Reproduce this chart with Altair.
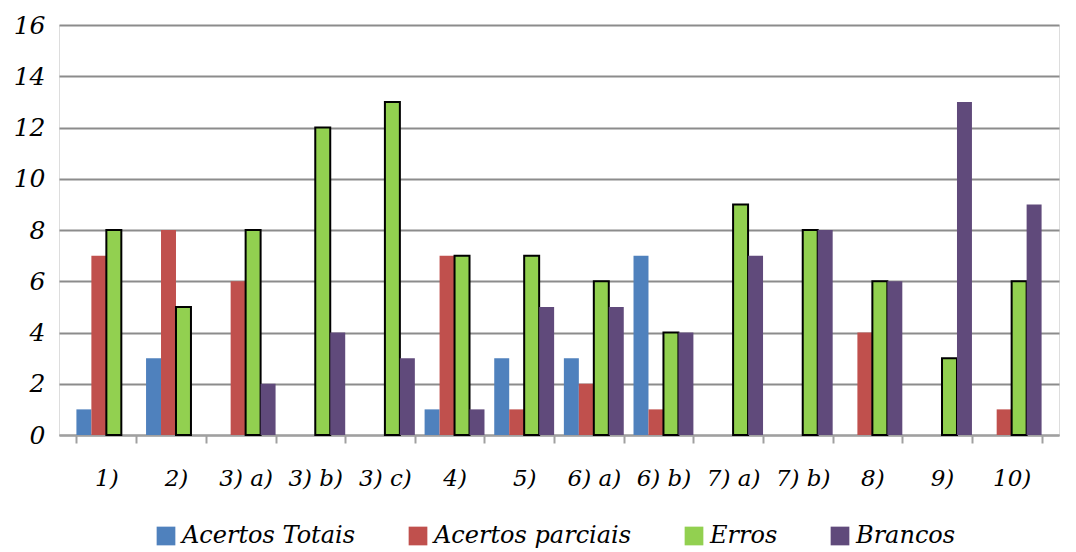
import altair as alt
import pandas as pd

categories = ["1)", "2)", "3) a)", "3) b)", "3) c)", "4)", "5)", "6) a)", "6) b)", "7) a)", "7) b)", "8)", "9)", "10)"]
series = ["Acertos Totais", "Acertos parciais", "Erros", "Brancos"]
acertos_totais = [1, 3, 0, 0, 0, 1, 3, 3, 7, 0, 0, 0, 0, 0]
acertos_parciais = [7, 8, 6, 0, 0, 7, 1, 2, 1, 0, 0, 4, 0, 1]
erros = [8, 5, 8, 12, 13, 7, 7, 6, 4, 9, 8, 6, 3, 6]
brancos = [0, 0, 2, 4, 3, 1, 5, 5, 4, 7, 8, 6, 13, 9]
colors = ["#4F81BD", "#C0504D", "#92D050", "#604A7B"]

rows = []
for vals, s in zip([acertos_totais, acertos_parciais, erros, brancos], series):
    for c, v in zip(categories, vals):
        rows.append({"cat": c, "serie": s, "valor": v})
df = pd.DataFrame(rows)

FONT = "DejaVu Serif"

chart = alt.Chart(df).mark_bar(strokeWidth=2).encode(
    x=alt.X("cat:N", sort=categories, title=None,
            scale=alt.Scale(paddingInner=0.14, paddingOuter=0.25),
            axis=alt.Axis(labelAngle=0, labelFont=FONT, labelFontStyle="italic",
                          labelFontSize=23, labelColor="#000", labelPadding=24,
                          domainColor="#A0A0A0", domainWidth=2, tickColor="#A0A0A0",
                          tickBand="extent", tickSize=8, tickWidth=2)),
    xOffset=alt.XOffset("serie:N", sort=series),
    y=alt.Y("valor:Q", title=None,
            scale=alt.Scale(domain=[0, 16], nice=False),
            axis=alt.Axis(values=list(range(0, 17, 2)), labelFont=FONT,
                          labelFontStyle="italic", labelFontSize=25, labelColor="#000",
                          gridColor="#8C8C8C", gridWidth=2, domain=False,
                          ticks=False, labelPadding=14)),
    color=alt.Color("serie:N", sort=series,
                    scale=alt.Scale(domain=series, range=colors),
                    legend=alt.Legend(title=None, orient="none", legendX=95, legendY=499,
                                      direction="horizontal",
                                      symbolType="square", symbolSize=350,
                                      symbolStrokeWidth=0, labelLimit=400,
                                      labelFont=FONT, labelFontStyle="italic",
                                      labelFontSize=24, labelColor="#000",
                                      columnPadding=50)),
    stroke=alt.condition(alt.datum.serie == "Erros", alt.value("#000000"), alt.value(None)),
).properties(
    width=1000, height=410
).configure_view(
    fill="#E4E0CB", stroke=None
).configure(background="white")

chart.save("out.html", embed_options={"renderer": "svg", "actions": False})
